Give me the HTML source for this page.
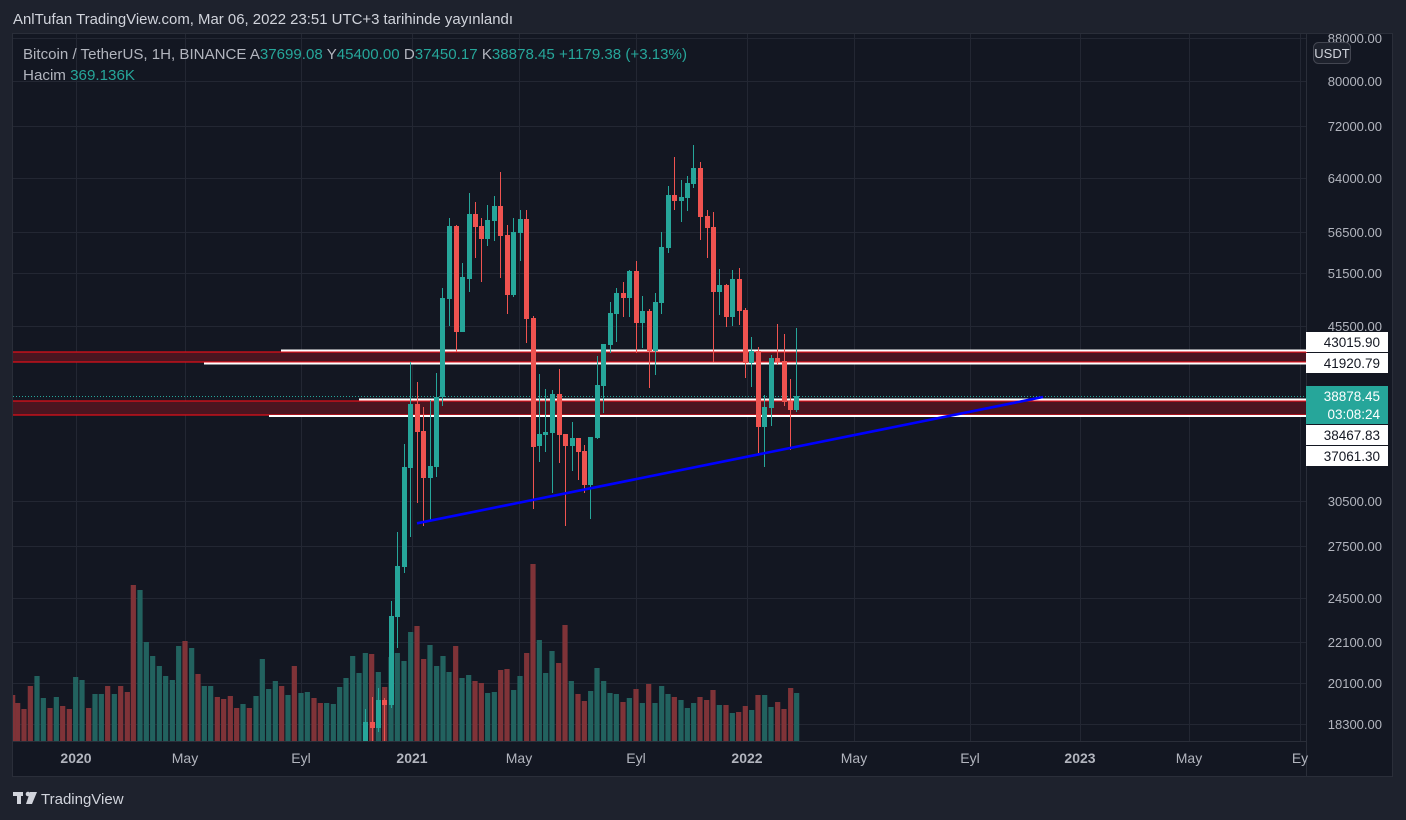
<!DOCTYPE html>
<html><head><meta charset="utf-8">
<style>
html,body{margin:0;padding:0;background:#1e222d;width:1406px;height:820px;overflow:hidden;font-family:"Liberation Sans",sans-serif;}
svg{position:absolute;left:0;top:0}
</style></head>
<body>
<svg id="s" width="1406" height="820" xmlns="http://www.w3.org/2000/svg">
<defs><clipPath id="cp"><rect x="13" y="34" width="1293" height="707"/></clipPath></defs>
<rect x="0" y="0" width="1406" height="820" fill="#1e222d"/>
<rect x="12.5" y="33.5" width="1380" height="743" fill="#131722" stroke="#2a2e39" stroke-width="1"/>
<g id="grid" stroke="#232733" stroke-width="1"></g>
<line x1="1306.5" y1="34" x2="1306.5" y2="776" stroke="#2a2e39"/>
<line x1="13" y1="741.5" x2="1306" y2="741.5" stroke="#2a2e39"/>
<g id="vol" clip-path="url(#cp)"></g>
<rect x="13" y="352" width="1294" height="10" fill="#4a1520"/>
<line x1="13" y1="352" x2="1307" y2="352" stroke="#e0101a" stroke-width="1.2"/>
<line x1="13" y1="362" x2="1307" y2="362" stroke="#e0101a" stroke-width="1.2"/>
<line x1="281" y1="350.5" x2="1307" y2="350.5" stroke="#fff" stroke-width="2"/>
<line x1="204" y1="363.5" x2="1307" y2="363.5" stroke="#fff" stroke-width="2"/>
<rect x="13" y="401" width="1294" height="14" fill="#4a1520"/>
<line x1="13" y1="401" x2="1307" y2="401" stroke="#e0101a" stroke-width="1.2"/>
<line x1="13" y1="415" x2="1307" y2="415" stroke="#e0101a" stroke-width="1.2"/>
<line x1="359" y1="399.5" x2="1307" y2="399.5" stroke="#fff" stroke-width="2"/>
<line x1="269" y1="416" x2="1307" y2="416" stroke="#fff" stroke-width="2"/>
<line x1="13" y1="396.5" x2="1307" y2="396.5" stroke="#26a69a" stroke-width="1" stroke-dasharray="1,2"/>
<g id="cdl"></g>
<line x1="417" y1="523.3" x2="1043" y2="397" stroke="#0000ff" stroke-width="2.6"/>
<g id="ax" font-size="13" fill="#b2b5be" text-anchor="end"></g>
<rect x="1313.5" y="42.5" width="37" height="21" rx="5" fill="#1e222d" stroke="#434651"/>
<text x="1332" y="58" font-size="13" fill="#d1d4dc" text-anchor="middle">USDT</text>
<g font-size="13.5" fill="#131722" text-anchor="end">
<rect x="1306" y="332" width="82" height="20" fill="#fff"/><text x="1380" y="347">43015.90</text>
<rect x="1306" y="353" width="82" height="20" fill="#fff"/><text x="1380" y="368">41920.79</text>
<rect x="1306" y="386" width="82" height="38" fill="#26a69a"/>
<text x="1380" y="401" fill="#fff">38878.45</text><text x="1380" y="419" fill="#fff">03:08:24</text>
<rect x="1306" y="425" width="82" height="20" fill="#fff"/><text x="1380" y="440">38467.83</text>
<rect x="1306" y="446" width="82" height="20" fill="#fff"/><text x="1380" y="461">37061.30</text>
</g>
<g id="tx" font-size="14" fill="#b2b5be" text-anchor="middle"></g>
<text x="13" y="24" font-size="15" fill="#d1d4dc" textLength="500" lengthAdjust="spacingAndGlyphs">AnlTufan TradingView.com, Mar 06, 2022 23:51 UTC+3 tarihinde yayınlandı</text>
<text x="23" y="59" font-size="15" fill="#b2b5be" textLength="664" lengthAdjust="spacingAndGlyphs">Bitcoin / TetherUS, 1H, BINANCE  A<tspan fill="#26a69a">37699.08</tspan>  Y<tspan fill="#26a69a">45400.00</tspan>  D<tspan fill="#26a69a">37450.17</tspan>  K<tspan fill="#26a69a">38878.45</tspan>  <tspan fill="#26a69a">+1179.38 (+3.13%)</tspan></text>
<text x="23" y="80" font-size="15" fill="#b2b5be" textLength="112" lengthAdjust="spacingAndGlyphs">Hacim  <tspan fill="#26a69a">369.136K</tspan></text>
<g fill="#d1d4dc"><rect x="13" y="792" width="10" height="4"/><rect x="17" y="792" width="4" height="12"/><circle cx="28" cy="794" r="2.3"/><polygon points="30,792 37,792 32,804 26,804"/></g>
<text x="41" y="804" font-size="15" fill="#d1d4dc">TradingView</text>
</svg>
<script>
var NS="http://www.w3.org/2000/svg";
function el(p,t,a,txt){var e=document.createElementNS(NS,t);for(var k in a)e.setAttribute(k,a[k]);if(txt)e.textContent=txt;document.getElementById(p).appendChild(e);}
var hy=[38,81,126,178,232,273,326,501,546,598,642,683,724];
var hl=["88000.00","80000.00","72000.00","64000.00","56500.00","51500.00","45500.00","30500.00","27500.00","24500.00","22100.00","20100.00","18300.00"];
var vx=[76,185,301,412,519,636,747,854,970,1080,1189,1300];
hy.forEach(function(y,i){el("grid","line",{x1:13,x2:1306,y1:y+0.5,y2:y+0.5});el("ax","text",{x:1382,y:y+5},hl[i]);});
vx.forEach(function(x){el("grid","line",{x1:x+0.5,x2:x+0.5,y1:34,y2:741});});
var tl=[["2020",76,1],["May",185,0],["Eyl",301,0],["2021",412,1],["May",519,0],["Eyl",636,0],["2022",747,1],["May",854,0],["Eyl",970,0],["2023",1080,1],["May",1189,0],["Ey",1300,0]];
tl.forEach(function(t){el("tx","text",{x:t[1],y:763,"font-weight":t[2]?"bold":"normal"},t[0]);});
var GV="#22625f",RV="#7f3338";
var v4=[[38,"R",375],[53,"R",399],[72,"R",417],[91,"R",348],[111,"G",318],[130,"G",384],[150,"R",414],[169,"G",381],[188,"R",408],[208,"R",417],[227,"G",321],[246,"G",330],[266,"R",414],[285,"G",372],[304,"G",372],[323,"R",348],[343,"G",372],[362,"R",348],[382,"R",366],[400,"R",45],[420,"G",60],[439,"G",216],[458,"G",258],[478,"G",288],[497,"G",318],[517,"G",330],[536,"G",228],[555,"R",213],[575,"G",234],[594,"R",312],[613,"G",348],[632,"G",348],[652,"R",381],[671,"R",387],[691,"R",378],[710,"R",414],[729,"G",402],[748,"R",414],[768,"G",378],[787,"G",267],[806,"G",357],[826,"G",333],[845,"R",348],[864,"G",375],[883,"R",288],[903,"G",369],[922,"G",366],[942,"R",384],[961,"R",399],[980,"G",399],[1000,"G",402],[1019,"G",351],[1038,"G",324],[1058,"G",258],[1077,"G",309],[1096,"G",249],[1115,"R",252],[1135,"G",306],[1154,"R",351],[1173,"G",261],[1192,"G",249]];
v4.forEach(function(b){var x=b[0]/3,y=570+b[2]/3;el("vol","rect",{x:x-2.6,y:y,width:5.2,height:741-y,fill:b[1]=="G"?GV:RV});});
var v5=[[12,"G",303],[32,"G",216],[51,"R",198],[71,"R",297],[90,"G",255],[110,"G",318],[129,"G",288],[147,"G",336],[167,"R",258],[186,"G",354],[206,"G",345],[225,"R",363],[244,"R",369],[263,"G",399],[283,"G",396],[302,"R",330],[321,"R",327],[341,"G",390],[360,"G",348],[380,"R",279],[399,"R",12],[418,"G",240],[437,"G",339],[456,"G",273],[476,"R",309],[495,"R",195],[514,"G",363],[534,"R",402],[553,"R",423],[572,"G",393],[591,"G",324],[611,"G",363],[630,"G",399],[649,"G",402],[669,"R",426],[688,"G",414],[708,"R",387],[727,"G",429],[746,"R",372],[765,"G",429],[785,"G",378],[804,"G",402],[823,"R",411],[843,"G",420],[862,"G",444],[881,"G",429],[900,"R",411],[920,"R",420],[939,"R",390],[958,"G",435],[978,"R",435],[997,"G",459],[1016,"R",456],[1036,"R",438],[1055,"G",450],[1074,"R",405],[1094,"G",405],[1113,"G",441],[1133,"R",426],[1152,"R",447],[1172,"R",384],[1190,"G",399]];
v5.forEach(function(b){var x=400+b[0]/3,y=560+b[2]/3;el("vol","rect",{x:x-2.6,y:y,width:5.2,height:741-y,fill:b[1]=="G"?GV:RV});});
var C=[[365,722,741,709,741,"G"],[372,722,728,697,741,"R"],[378,700,728,688,732,"G"],[384,700,705,698,741,"R"],[391,616,705,601,708,"G"],[397,566,617,532,648,"G"],[404,467,567,444,573,"G"],[410,404,468,362,537,"G"],[417,404,432,382,503,"R"],[423,431,478,407,526,"R"],[430,466,478,400,520,"G"],[436,397,467,373,477,"G"],[442,298,397,288,406,"G"],
[449,226,299,218,326,"G"],[456,226,332,225,352,"R"],[462,277,332,263,332,"G"],[469,214,279,193,292,"G"],[475,214,227,202,258,"R"],[481,226,239,218,282,"R"],[487,220,239,205,246,"G"],[494,206,221,196,241,"G"],[500,206,236,172,278,"R"],[507,235,295,225,314,"R"],[513,232,295,218,297,"G"],[520,219,233,210,261,"G"],[526,219,319,210,343,"R"],[533,318,447,316,509,"R"],[539,434,446,374,462,"G"],[545,432,435,389,452,"G"],[552,394,433,390,493,"G"],[559,394,435,369,463,"R"],[565,434,446,434,526,"R"],[572,438,446,422,471,"G"],[578,438,452,438,480,"R"],[584,451,485,445,493,"R"],[590,437,485,437,519,"G"],[597,385,438,356,439,"G"],[603,344,386,344,413,"G"],[610,313,345,302,353,"G"],[616,293,314,288,342,"G"],[623,293,298,282,317,"R"],[629,271,298,270,317,"G"],[636,271,323,261,353,"R"],[642,311,323,296,348,"G"],[649,311,351,309,388,"R"],[655,302,351,293,375,"G"],[661,247,303,232,314,"G"],[668,195,248,186,253,"G"],[674,195,201,157,210,"R"],[681,197,201,180,222,"G"],[687,183,198,176,211,"G"],[693,168,184,145,188,"G"],[700,168,217,162,240,"R"],[707,216,228,210,258,"R"],[713,227,292,212,362,"R"],[719,285,292,269,315,"G"],[726,285,317,284,327,"R"],[732,279,317,270,326,"G"],[739,279,311,268,325,"R"],[745,310,363,308,378,"R"],[751,351,363,337,387,"G"],[758,351,427,347,453,"R"],[764,407,427,395,467,"G"],[771,358,408,355,426,"G"],[777,358,362,324,365,"R"],[784,361,402,334,406,"R"],[790,401,410,379,450,"R"],[796,396,410,328,412,"G"]];
C.forEach(function(c){var col=c[5]=="G"?"#26a69a":"#ef5350";el("cdl","line",{x1:c[0]+0.5,x2:c[0]+0.5,y1:c[3],y2:c[4],stroke:col,"stroke-width":1});el("cdl","rect",{x:c[0]-2,y:c[1],width:5,height:Math.max(1,c[2]-c[1]),fill:col});});
</script>
</body></html>
